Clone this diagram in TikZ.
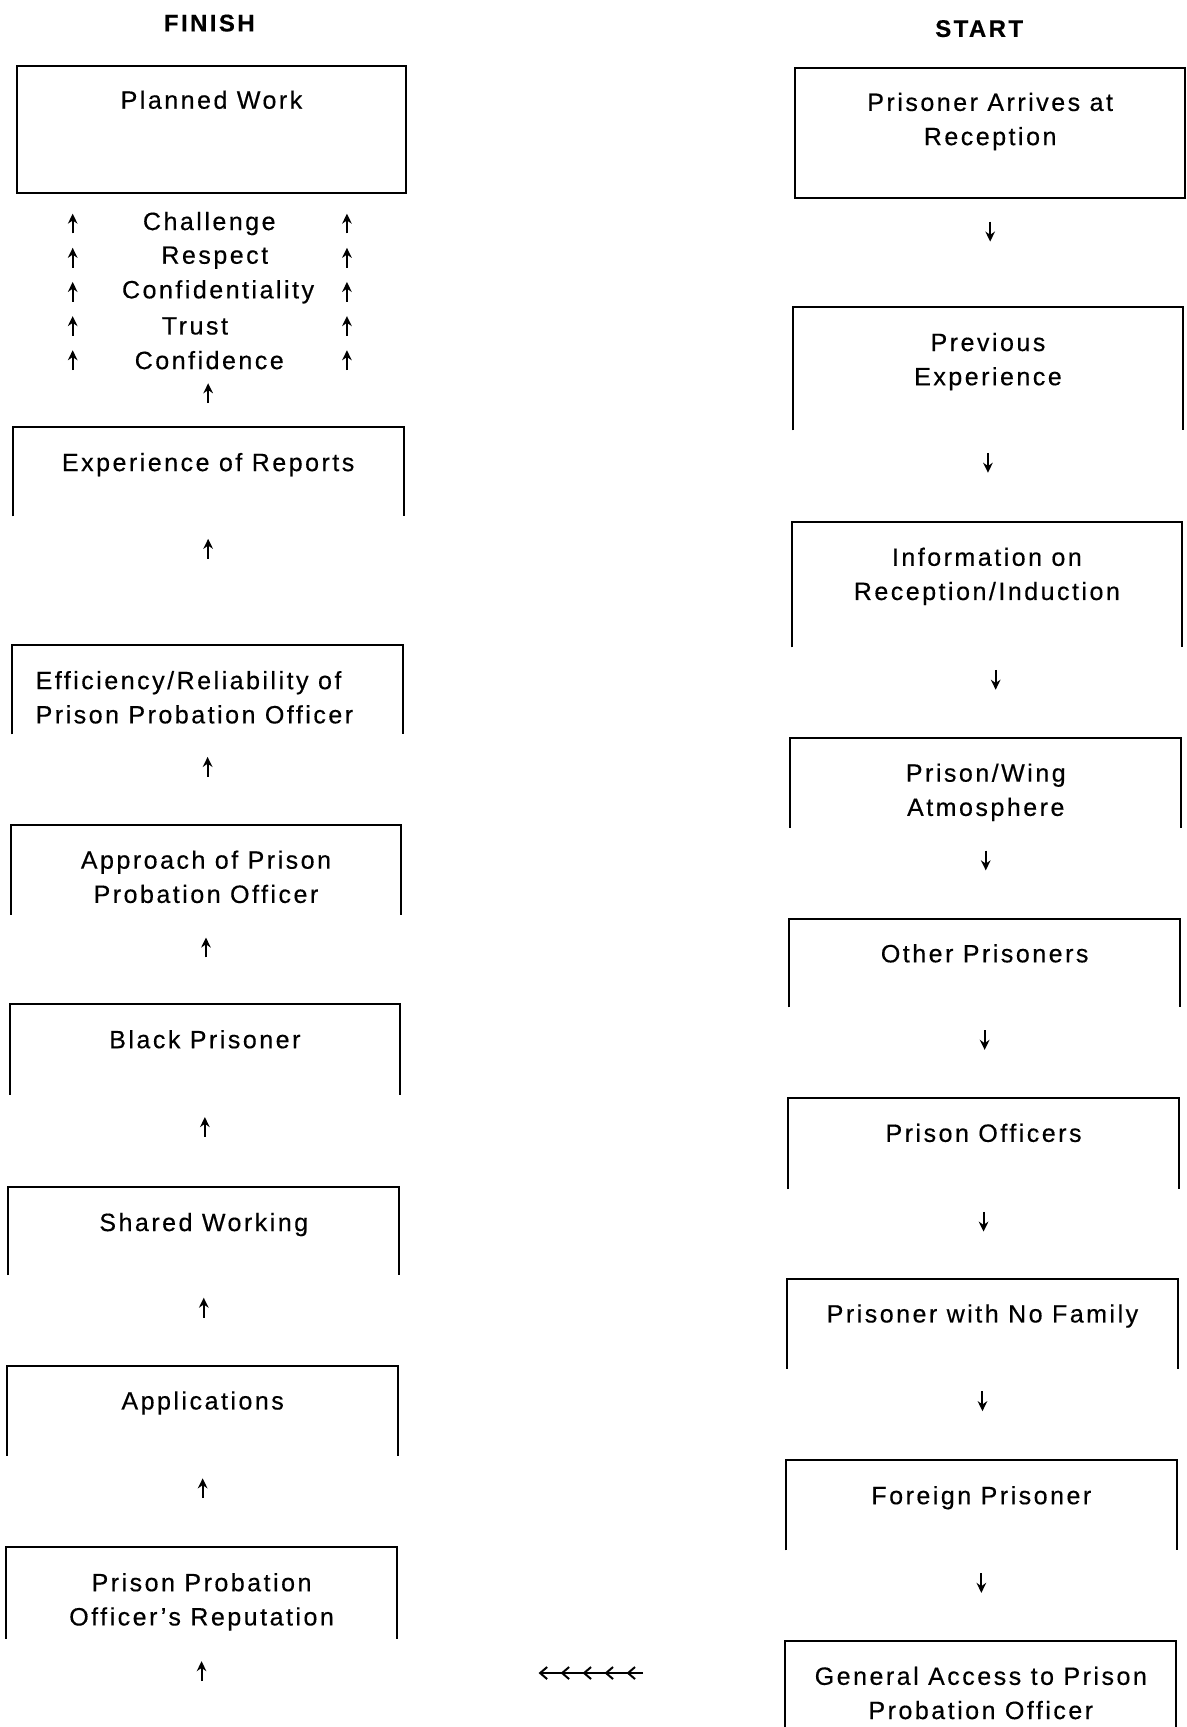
\documentclass[tikz,border=0pt]{standalone}
\usepackage{fontspec}
\setmainfont{Liberation Sans}[LetterSpace=10, FakeBold=0.4]
\usetikzlibrary{arrows.meta, calc, decorations.markings}
\newcommand{\pu}{0.5506pt}

\begin{document}
\begin{tikzpicture}[
    x=\pu, y=-\pu,
    every node/.style={font=\fontsize{12.5}{17.1}\selectfont},
    stage/.style={anchor=north, minimum width=354*\pu, inner sep=0pt},
    stagetext/.style={anchor=north, yshift=-12.6pt, inner sep=0pt, align=center},
    edge/.style={line width=1pt},
    uparr/.style={line width=1pt, -{Stealth[length=5pt,width=4.8pt]}},
    multiarr/.style={
        line width=1pt,
        -{Straight Barb[length=3.5pt,width=6pt]},
        postaction={decorate},
        decoration={markings,
            mark=between positions 0.16 and 0.8 step 0.21 with {\arrow{Straight Barb[length=3.5pt,width=6pt]}}}
    }
]
\useasboundingbox (0,0) rectangle (1077,1568);

\node[font=\fontsize{12}{14}\selectfont\bfseries] (finish) at (190,21) {FINISH};
\node[font=\fontsize{12}{14}\selectfont\bfseries] (start) at (889,26) {START};

% finish column
\node[stage, draw, edge, minimum height=115*\pu, label={[stagetext]north:Planned Work}] (plan) at (192,59) {};
\node (chal)  at (190,203) {Challenge};
\node (resp)  at (195,234) {Respect};
\node (conf)  at (198,265) {Confidentiality};
\node (trust) at (177,296) {Trust};
\node (cfd)   at (190,327) {Confidence};
\node[stage, minimum height=80*\pu, label={[stagetext]north:Experience of Reports}] (rep) at (189,388) {};
\node[stage, minimum height=80*\pu, label={[stagetext, align=left, xshift=-12*\pu]north:Efficiency/Reliability of\\Prison Probation Officer}] (eff) at (188.5,586) {};
\node[stage, minimum height=81*\pu, label={[stagetext]north:Approach of Prison\\Probation Officer}] (appr) at (187,749) {};
\node[stage, minimum height=81*\pu, label={[stagetext]north:Black Prisoner}] (black) at (186,912) {};
\node[stage, minimum height=79*\pu, label={[stagetext]north:Shared Working}] (shared) at (185,1078) {};
\node[stage, minimum height=81*\pu, label={[stagetext]north:Applications}] (appl) at (184,1240) {};
\node[stage, minimum height=82*\pu, label={[stagetext]north:Prison Probation\\Officer's Reputation}] (repu) at (183,1405) {};

% start column
\node[stage, draw, edge, minimum height=118*\pu, label={[stagetext]north:Prisoner Arrives at\\Reception}] (arrive) at (899,61) {};
\node[stage, minimum height=111*\pu, label={[stagetext]north:Previous\\Experience}] (prev) at (897,279) {};
\node[stage, minimum height=113*\pu, label={[stagetext]north:Information on\\Reception/Induction}] (info) at (896,474) {};
\node[stage, minimum height=81*\pu, label={[stagetext]north:Prison/Wing\\Atmosphere}] (wing) at (895,670) {};
\node[stage, minimum height=80*\pu, label={[stagetext]north:Other Prisoners}] (other) at (894,834) {};
\node[stage, minimum height=82*\pu, label={[stagetext]north:Prison Officers}] (poff) at (893,997) {};
\node[stage, minimum height=81*\pu, label={[stagetext]north:Prisoner with No Family}] (family) at (892,1161) {};
\node[stage, minimum height=81*\pu, label={[stagetext]north:Foreign Prisoner}] (foreign) at (891,1326) {};
\node[stage, minimum height=90*\pu, label={[stagetext]north:General Access to Prison\\Probation Officer}] (access) at (890.5,1490) {};

\foreach \n in {rep, eff, appr, black, shared, appl, repu, prev, info, wing, other, poff, family, foreign, access}
    \draw[edge] (\n.south west) |- (\n.north east) -- (\n.south east);

\coordinate (lx) at (66,0);
\coordinate (rx) at (315,0);
\foreach \w in {chal, resp, conf, trust, cfd} {
    \draw[uparr] ($(\w -| lx)+(0,9)$) -- ++(0,-18);
    \draw[uparr] ($(\w -| rx)+(0,9)$) -- ++(0,-18);
}
\draw[uparr] ($(rep.north)+(0,-22)$) -- ++(0,-18);

\foreach \n in {rep, eff, appr, black, shared, appl, repu}
    \draw[uparr] ($(\n.south)+(0,38.5)$) -- ++(0,-18);
\foreach \n in {arrive, prev, wing, other, poff, family, foreign}
    \draw[uparr] ($(\n.south)+(0,20.5)$) -- ++(0,18);
\draw[uparr] ($(info.south)+(8,20.5)$) -- ++(0,18);

\coordinate (hs) at (584,1519);
\coordinate (he) at (489,1519);
\draw[multiarr] (hs) -- (he);
\end{tikzpicture}
\end{document}
